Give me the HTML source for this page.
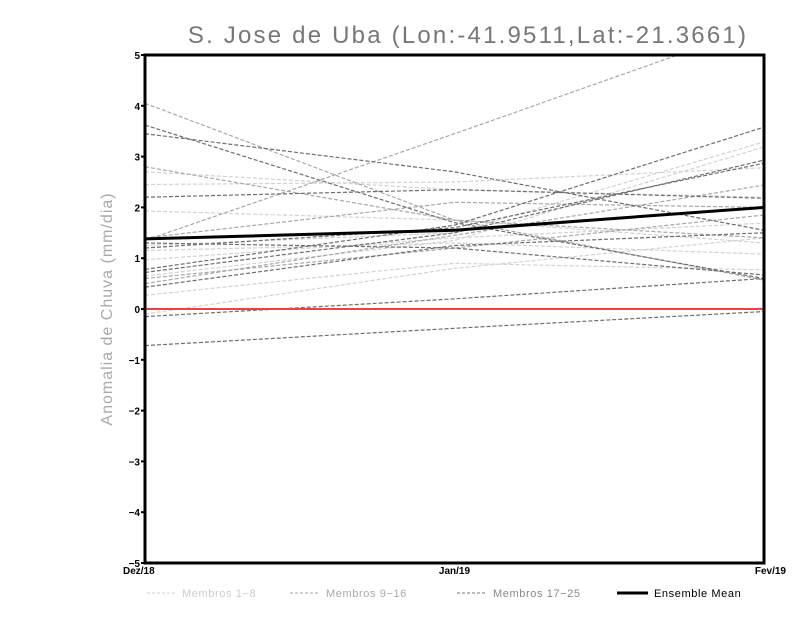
<!DOCTYPE html>
<html><head><meta charset="utf-8">
<style>
body{margin:0;background:#fff;}
svg{display:block;font-family:"Liberation Sans",sans-serif;}
</style></head>
<body>
<svg id="chart" width="800" height="618">
<text x="468" y="43" text-anchor="middle" font-size="24" fill="#777" letter-spacing="2.2">S. Jose de Uba (Lon:-41.9511,Lat:-21.3661)</text>
<text transform="translate(112,309) rotate(-90)" text-anchor="middle" font-size="16" fill="#aaa" letter-spacing="1">Anomalia de Chuva (mm/dia)</text>
<g id="yticks"></g><g id="lines"></g><g id="xticks"></g>
<rect x="145" y="55" width="619" height="508" fill="none" stroke="#000" stroke-width="3"/>
<g font-size="11" letter-spacing="0.6">
<line x1="147" y1="593" x2="177" y2="593" stroke="#d0d0d0" stroke-dasharray="3,2"/>
<text x="182" y="597" fill="#ccc">Membros 1−8</text>
<line x1="290" y1="593" x2="320" y2="593" stroke="#aaa" stroke-dasharray="3,2"/>
<text x="326" y="597" fill="#aaa">Membros 9−16</text>
<line x1="457" y1="593" x2="487" y2="593" stroke="#777" stroke-dasharray="3,2"/>
<text x="493" y="597" fill="#888">Membros 17−25</text>
<line x1="617" y1="593" x2="648" y2="593" stroke="#000" stroke-width="3"/>
<text x="654" y="597" fill="#000">Ensemble Mean</text>
</g>
</svg>
<script>
const categories=["Dez/18","Jan/19","Fev/19"];
const yTicks=[-5,-4,-3,-2,-1,0,1,2,3,4,5];
const membersLight=[[2.7,2.35,2.2],[2.45,2.5,2.78],[1.93,1.75,1.3],[1.25,1.5,3.29],[1.15,1.3,1.08],[0.97,1.4,1.69],[0.65,1.35,3.19],[0.27,0.9,0.77],[-0.1,0.8,1.4]];
const membersMid=[[4.05,1.75,1.4],[2.8,1.75,0.57],[1.35,3.45,5.6],[0.6,1.2,1.85],[0.5,1.45,2.44],[1.4,2.1,2.0]];
const membersDark=[[3.62,1.7,0.6],[3.45,2.7,1.55],[2.2,2.35,2.18],[1.3,1.2,0.67],[1.2,1.6,2.87],[0.78,1.65,3.58],[0.72,1.5,2.93],[0.43,1.25,1.5],[-0.15,0.2,0.6],[-0.72,-0.38,-0.05]];
const ensembleMean=[1.38,1.55,2.0];
const NS="http://www.w3.org/2000/svg";
const X0=145,X1=764,Y0=563,Y1=55;
function xs(i){return X0+(X1-X0)*i/(categories.length-1);}
function ys(v){return Y0-(v+5)/10*(Y0-Y1);}
function mk(t,a,p){const e=document.createElementNS(NS,t);for(const k in a)e.setAttribute(k,a[k]);p.appendChild(e);return e;}
const yt=document.getElementById('yticks'),lg=document.getElementById('lines'),xt=document.getElementById('xticks');
yTicks.forEach(v=>{
 const l=mk('line',{x1:X0-4,x2:X0,y1:ys(v),y2:ys(v),stroke:'#000','stroke-width':2},yt);
 
 
 const t=mk('text',{x:X0-5,y:ys(v)+4,'text-anchor':'end','font-size':10,'font-weight':'bold'},yt);
 t.textContent=String(v).replace('-','−');
 
 
});
categories.forEach((c,i)=>{
 const t=mk('text',{x:xs(i),y:Y0+11,'text-anchor':i==0?'start':(i==2?'end':'middle'),'font-size':10,'font-weight':'bold'},xt);
 t.textContent=c;
 if(i==0)t.setAttribute('x',X0-22);
 if(i==2)t.setAttribute('x',X1+22);
 
 
});
const clip=mk('clipPath',{id:'pc'},lg);mk('rect',{x:X0,y:Y1,width:X1-X0,height:Y0-Y1},clip);
function series(arr,col,name){arr.forEach(d=>{
 const p=mk('polyline',{points:d.map((v,i)=>xs(i)+','+ys(v)).join(' '),fill:'none',stroke:col,'stroke-width':1.2,'stroke-dasharray':'4,2','clip-path':'url(#pc)'},lg);
 
 
});}
series(membersLight,'#d2d2d2','member-line-1-8');
series(membersMid,'#a8a8a8','member-line-9-16');
series(membersDark,'#6e6e6e','member-line-17-25');
const z=mk('line',{x1:X0,x2:X1,y1:ys(0),y2:ys(0),stroke:'#f04040','stroke-width':2},lg);


const m=mk('polyline',{points:ensembleMean.map((v,i)=>xs(i)+','+ys(v)).join(' '),fill:'none',stroke:'#000','stroke-width':3},lg);


</script>
</body></html>
